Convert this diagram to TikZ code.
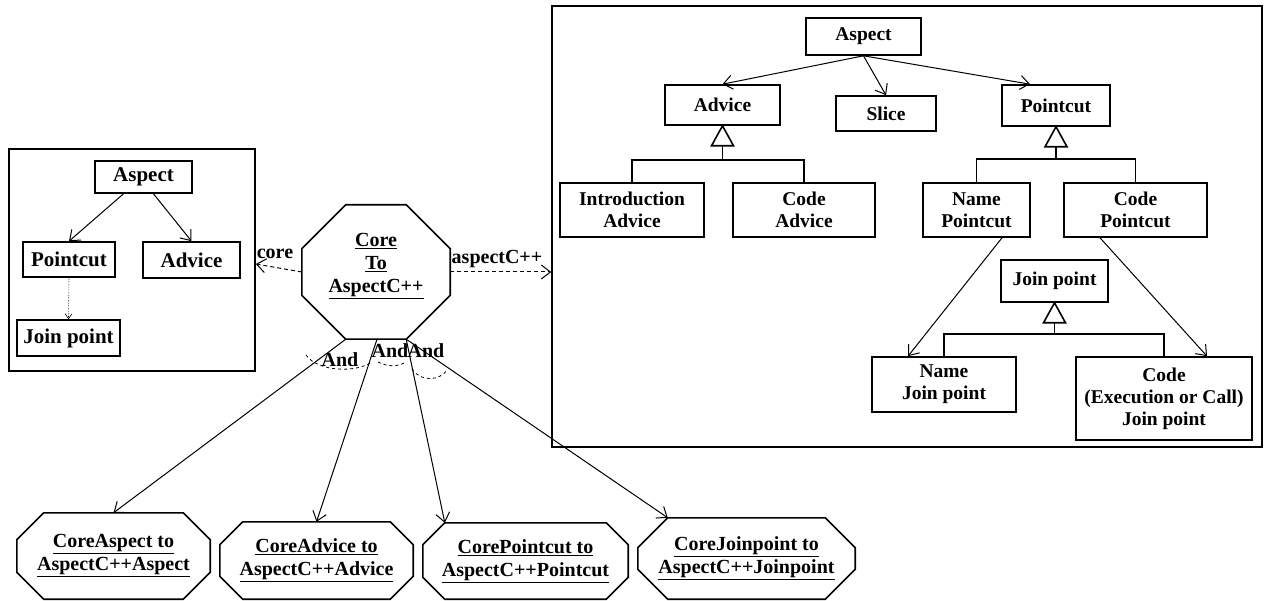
\documentclass[tikz,border=0pt]{standalone}
\usepackage{fontspec}
\setmainfont{Liberation Serif}
\usetikzlibrary{arrows.meta,calc}

% octagon drawn inside the bounding rectangle of node #1, corners cut by #2
\newcommand\octagonframe[2]{%
  \coordinate (#1-tl) at ($(#1.north west)+(#2,0)$);
  \coordinate (#1-tr) at ($(#1.north east)+(-#2,0)$);
  \coordinate (#1-rt) at ($(#1.north east)+(0,#2)$);
  \coordinate (#1-rb) at ($(#1.south east)+(0,-#2)$);
  \coordinate (#1-br) at ($(#1.south east)+(-#2,0)$);
  \coordinate (#1-bl) at ($(#1.south west)+(#2,0)$);
  \coordinate (#1-lb) at ($(#1.south west)+(0,-#2)$);
  \coordinate (#1-lt) at ($(#1.north west)+(0,#2)$);
  \draw[octline] (#1-tl) -- (#1-tr) -- (#1-rt) -- (#1-rb) -- (#1-br)
    -- (#1-bl) -- (#1-lb) -- (#1-lt) -- cycle;}

\begin{document}
\begin{tikzpicture}[x=1pt,y=-1pt,
  every node/.style={font=\fontsize{20}{23}\selectfont\bfseries},
  box/.style={draw, line width=1.6pt, inner sep=0pt, align=center},
  lbox/.style={box, font=\fontsize{21}{24}\selectfont\bfseries},
  rbox/.style={box, font=\fontsize{19.5}{22}\selectfont\bfseries},
  frame/.style={draw, line width=1.7pt, inner sep=0pt},
  hull/.style={inner sep=0pt, align=center},
  octline/.style={line width=1.6pt, line join=miter},
  link/.style={line width=1pt, -{Straight Barb[length=9pt,width=14pt,line width=1pt]}},
  dlink/.style={link, dash pattern=on 4pt off 3pt},
  thinlink/.style={line width=0.6pt, densely dotted, -{Straight Barb[length=5pt,width=7pt,line width=0.6pt]}},
  gen/.style={line width=1.6pt},
  lbl/.style={inner sep=0pt}]

\useasboundingbox (0,0) rectangle (1269,601);

% ---------- core model ----------
\node[frame, minimum width=246pt, minimum height=222pt] (lframe) at (132,260) {};
\node[lbox, minimum width=97pt, minimum height=32pt] (lAspect) at (143.5,177) {Aspect};
\node[lbox, minimum width=92pt, minimum height=35pt] (lPointcut) at (69,259.5) {Pointcut};
\node[lbox, minimum width=97pt, minimum height=36pt] (lAdvice) at (191.5,260) {Advice};
\node[lbox, minimum width=103pt, minimum height=36pt] (lJoin) at (68.5,338) {Join point};

\draw[link] ([xshift=-20pt]lAspect.south) -- (lPointcut.north);
\draw[link] ([xshift=10pt]lAspect.south) -- (lAdvice.north);
\draw[thinlink] (lPointcut.south) -- (lJoin.north);

% ---------- AspectC++ model ----------
\node[frame, minimum width=710pt, minimum height=441pt] (rframe) at (907,226.5) {};
\node[rbox, minimum width=115pt, minimum height=37pt] (rAspect) at (863.5,36.5) {Aspect};
\node[rbox, minimum width=115pt, minimum height=40pt] (rAdvice) at (722.5,105) {Advice};
\node[rbox, minimum width=100pt, minimum height=35pt] (rSlice) at (886,113.5) {Slice};
\node[rbox, minimum width=108pt, minimum height=41pt] (rPointcut) at (1056,105.5) {Pointcut};
\node[rbox, minimum width=144pt, minimum height=54pt] (rIntro) at (632,210) {Introduction\\Advice};
\node[rbox, minimum width=142pt, minimum height=54pt] (rCodeAdv) at (804,210) {Code\\Advice};
\node[rbox, minimum width=107pt, minimum height=54pt] (rNamePc) at (976.5,210) {Name\\Pointcut};
\node[rbox, minimum width=143pt, minimum height=54pt] (rCodePc) at (1135.5,210) {Code\\Pointcut};
\node[rbox, minimum width=107pt, minimum height=42pt] (rJoin) at (1054.5,281) {Join point};
\node[rbox, minimum width=144pt, minimum height=55pt] (rNameJp) at (944,384.5) {Name\\Join point};
\node[rbox, minimum width=176pt, minimum height=83pt] (rCodeJp) at (1164,398.5) {Code\\(Execution or Call)\\Join point};

\draw[link] (rAspect.south) -- (rAdvice.north);
\draw[link] (rAspect.south) -- (rSlice.north);
\draw[link] (rAspect.south) -- ([xshift=-26pt]rPointcut.north);
\draw[link] ([xshift=25.5pt]rNamePc.south) -- ([xshift=-36pt]rNameJp.north);
\draw[link] ([xshift=-35.5pt]rCodePc.south) -- ([xshift=43pt]rCodeJp.north);

% generalisation trees
\coordinate (advJ) at ($(rAdvice.south)+(0,34)$);
\draw[gen] (rIntro.north) |- (advJ) -| (rCodeAdv.north);
\draw[gen] (advJ) -- ++(0,-14);
\draw[gen] (rAdvice.south) -- ++(-11,20) -- ++(22,0) -- cycle;

\coordinate (pcJ) at ($(rPointcut.south)+(0,32)$);
\draw[gen] (rNamePc.north) |- (pcJ) -| (rCodePc.north);
\draw[gen] (pcJ) -- ++(0,-12);
\draw[gen] (rPointcut.south) -- ++(-11,20) -- ++(22,0) -- cycle;

\coordinate (jpJ) at ($(rJoin.south)+(0,31)$);
\draw[gen] (rNameJp.north) |- (jpJ) -| (rCodeJp.north);
\draw[gen] (jpJ) -- ++(0,-11);
\draw[gen] (rJoin.south) -- ++(-11,20) -- ++(22,0) -- cycle;

% ---------- transformation rules ----------
\node[hull, minimum width=148pt, minimum height=134pt] (core) at (376,272) {};
\octagonframe{core}{44}
\node[lbl, align=center] (coreText) at (376,266) {\underline{Core}\\\underline{To}\\\underline{AspectC++}};

\node[hull, minimum width=193pt, minimum height=86pt] (bAspect) at (113.5,556) {};
\octagonframe{bAspect}{27}
\node[lbl, align=center] (bAspectText) at (bAspect) {\underline{CoreAspect to}\\\underline{AspectC++Aspect}};

\node[hull, minimum width=193pt, minimum height=77pt] (bAdvice) at (316.5,560.5) {};
\octagonframe{bAdvice}{23}
\node[lbl, align=center] (bAdviceText) at (bAdvice) {\underline{CoreAdvice to}\\\underline{AspectC++Advice}};

\node[hull, minimum width=205pt, minimum height=76pt] (bPointcut) at (525.5,561) {};
\octagonframe{bPointcut}{22}
\node[lbl, align=center] (bPointcutText) at (bPointcut) {\underline{CorePointcut to}\\\underline{AspectC++Pointcut}};

\node[hull, minimum width=217pt, minimum height=81pt] (bJoin) at (746.5,558.5) {};
\octagonframe{bJoin}{30}
\node[lbl, align=center] (bJoinText) at (bJoin) {\underline{CoreJoinpoint to}\\\underline{AspectC++Joinpoint}};

\draw[link] (core-bl) -- (bAspect.north);
\draw[link] ([xshift=1pt]core.south) -- (bAdvice.north);
\draw[link] (core-br) -- (bPointcut-tl);
\draw[link] (core-br) -- (bJoin-tl);

% dependencies to the two models
\draw[dlink] (core.west) -- ([yshift=-4pt]lframe.east);
\node[lbl] (coreLbl) at (275,254) {core};
\draw[dlink] (core.east) -- (rframe.west |- core.east);
\node[lbl] (aspLbl) at (497,259) {aspectC++};

% and-constraints on the rule arrows
\node[lbl] (andA) at (340,360) {And};
\node[lbl] (andB) at (390,351) {And};
\node[lbl] (andC) at (426,351) {And};
\draw[line width=0.8pt, dash pattern=on 3pt off 3pt] (306,355) .. controls (318,372) and (356,373) .. (372,362);
\draw[line width=0.8pt, dash pattern=on 3pt off 3pt] (378,362) .. controls (388,367) and (398,367) .. (406,362);
\draw[line width=0.8pt, dash pattern=on 3pt off 3pt] (412,369) .. controls (420,382) and (440,381) .. (447,370);

\end{tikzpicture}
\end{document}
